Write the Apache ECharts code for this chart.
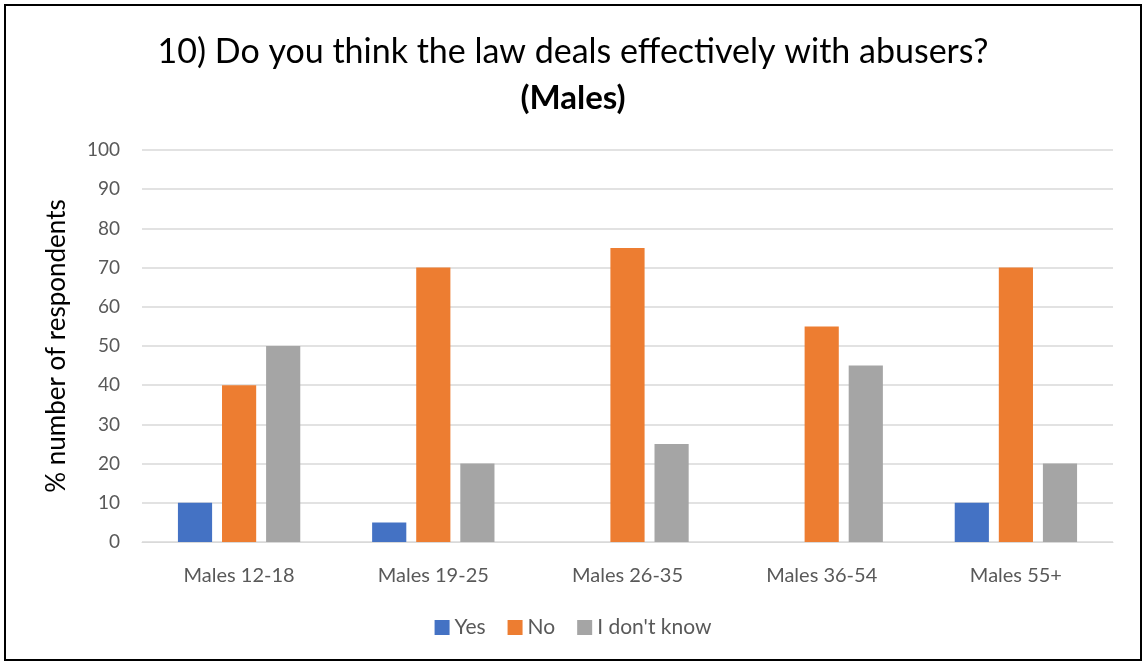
<!DOCTYPE html>
<html>
<head>
<meta charset="utf-8">
<script src="https://cdn.jsdelivr.net/npm/echarts@6/dist/echarts.min.js"></script>
<style>
html,body{margin:0;padding:0;background:#fff;}
#c{width:1146px;height:663px;}
</style>
</head>
<body>
<div id="c"></div>
<script>
const categories = ['Males 12-18','Males 19-25','Males 26-35','Males 36-54','Males 55+'];
const yesValues = [10, 5, 0, 0, 10];
const noValues = [40, 70, 75, 55, 70];
const dontKnowValues = [50, 20, 25, 45, 20];
const seriesNames = ['Yes','No',"I don't know"];
const colors = ['#4472c4','#ed7d31','#a5a5a5'];
const fontFam = 'Lato, "Open Sans", sans-serif';

const chart = echarts.init(document.getElementById('c'));
chart.setOption({
  animation:false,
  textStyle:{fontFamily:fontFam},
  title:{
    left:'center', top:24,
    text:'{a|10) Do you think the law deals effectively with abusers?}\n{b|(Males)}',
    textStyle:{
      fontWeight:'normal',
      rich:{
        a:{fontSize:34,color:'#000',fontWeight:'normal',fontFamily:fontFam,lineHeight:46,align:'center'},
        b:{fontSize:33,color:'#000',fontWeight:'bold',fontFamily:fontFam,lineHeight:46,align:'center'}
      }
    }
  },
  graphic:[{type:'rect',shape:{x:5,y:5,width:1136,height:655},style:{fill:'none',stroke:'#000',lineWidth:2},silent:true}],
  legend:{
    bottom:20, left:'center',
    itemWidth:15,itemHeight:15,itemGap:22,icon:'rect',
    textStyle:{fontSize:21,color:'#595959',fontFamily:fontFam},
    data:seriesNames
  },
  grid:{left:142,right:33,top:150,bottom:121,containLabel:false},
  xAxis:{
    type:'category',data:categories,
    axisLine:{lineStyle:{color:'#d9d9d9',width:1}},
    axisTick:{show:false},
    axisLabel:{fontSize:20,color:'#595959',margin:24}
  },
  yAxis:{
    type:'value',min:0,max:100,interval:10,
    name:'% number of respondents',nameLocation:'middle',nameGap:72,
    nameTextStyle:{fontSize:26,color:'#000',fontFamily:fontFam},
    axisLine:{show:false},axisTick:{show:false},
    axisLabel:{fontSize:19,color:'#595959',margin:22},
    splitLine:{lineStyle:{color:'#d9d9d9',width:1.5}}
  },
  series:[
    {name:seriesNames[0],type:'bar',data:yesValues,itemStyle:{color:colors[0]},barGap:'29%',barCategoryGap:'37%'},
    {name:seriesNames[1],type:'bar',data:noValues,itemStyle:{color:colors[1]},barGap:'29%',barCategoryGap:'37%'},
    {name:seriesNames[2],type:'bar',data:dontKnowValues,itemStyle:{color:colors[2]},barGap:'29%',barCategoryGap:'37%'}
  ]
});
</script>
</body>
</html>
